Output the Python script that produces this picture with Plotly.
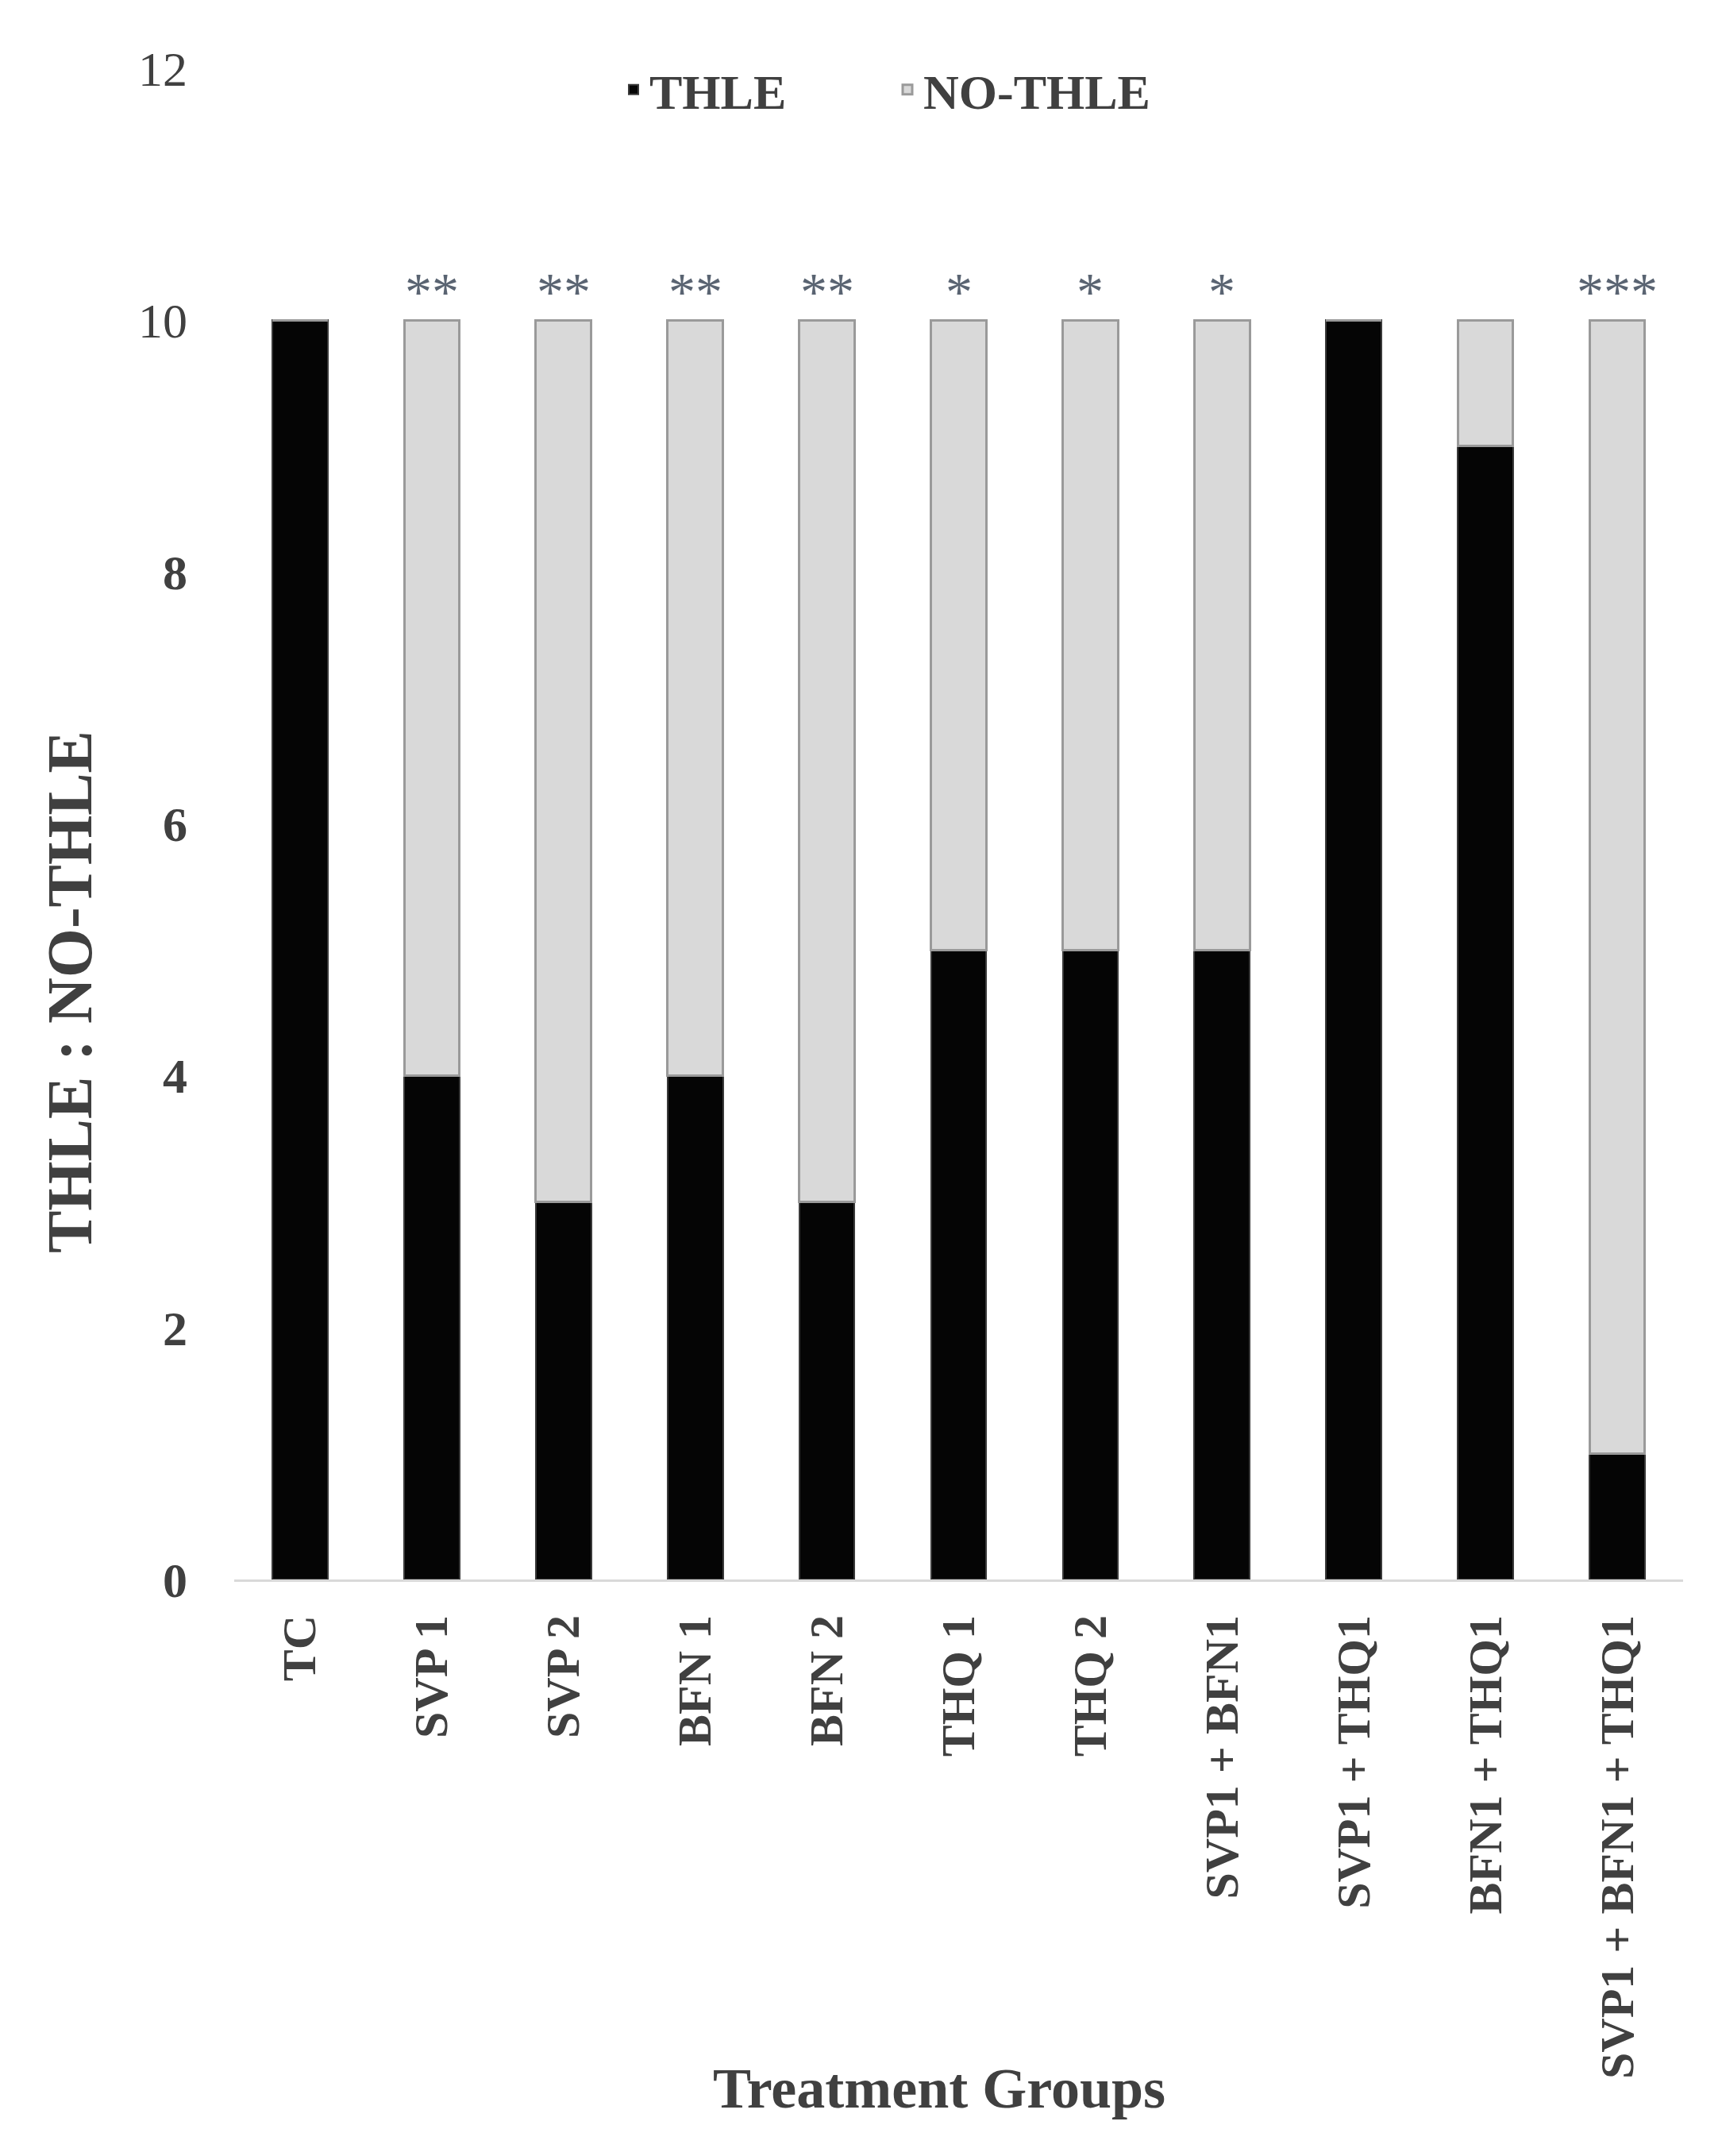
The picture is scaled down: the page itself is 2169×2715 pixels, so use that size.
import plotly.graph_objects as go

groups = ["TC", "SVP 1", "SVP 2", "BFN 1", "BFN 2", "THQ 1", "THQ 2",
          "SVP1 + BFN1", "SVP1 + THQ1", "BFN1 + THQ1", "SVP1 + BFN1 + THQ1"]
thle = [10, 4, 3, 4, 3, 5, 5, 5, 10, 9, 1]
no_thle = [0, 6, 7, 6, 7, 5, 5, 5, 0, 1, 9]
signif = ["", "**", "**", "**", "**", "*", "*", "*", "", "", "***"]
ytick_vals = [0, 2, 4, 6, 8, 10, 12]
ytick_text = ["<b>0</b>", "<b>2</b>", "<b>4</b>", "<b>6</b>", "<b>8</b>", "10", "12"]

FONT = "Liberation Serif"
TXT = "#404040"

L, R, T, B = 287, 57, 78, 734
W, H = 2169, 2715
PW, PH = W - L - R, H - T - B

def px(x):
    return (x - L) / PW

def py(y):
    return (H - B - y) / PH

fig = go.Figure()
fig.add_trace(go.Bar(x=groups, y=thle, name="THLE",
                     marker=dict(color="#050505", line=dict(color="#3a3a3a", width=2))))
fig.add_trace(go.Bar(x=groups, y=no_thle, name="NO-THLE",
                     marker=dict(color="#d9d9d9", line=dict(color="#9a9a9a", width=3))))

for g, s, a, b in zip(groups, signif, thle, no_thle):
    if s:
        fig.add_annotation(x=g, y=a + b, text=s, showarrow=False, yanchor="middle",
                           yshift=36, font=dict(family=FONT, size=68, color="#5a6472"))

fig.add_annotation(xref="paper", yref="paper", x=px(1175), y=py(2622),
                   text="<b>Treatment Groups</b>", showarrow=False,
                   xanchor="center", yanchor="middle",
                   font=dict(family=FONT, size=72, color=TXT))
fig.add_annotation(xref="paper", yref="paper", x=px(80), y=py(1241),
                   text="<b>THLE : NO-THLE</b>", showarrow=False, textangle=-90,
                   xanchor="center", yanchor="middle",
                   font=dict(family=FONT, size=80, color=TXT))

fig.update_layout(
    width=W, height=H,
    barmode="stack", bargap=0.58,
    plot_bgcolor="white", paper_bgcolor="white",
    margin=dict(l=L, r=R, t=T, b=B),
    font=dict(family=FONT, color=TXT),
    legend=dict(orientation="h", x=px(770), y=py(105),
                xanchor="left", yanchor="middle", bgcolor="rgba(0,0,0,0)",
                font=dict(family=FONT, size=62, color=TXT, weight="bold"),
                traceorder="normal", itemwidth=30,
                entrywidthmode="pixels", entrywidth=300),
    xaxis=dict(tickangle=-90, tickfont=dict(family=FONT, size=60, color=TXT, weight="bold"),
               showline=True, linecolor="#d9d9d9", linewidth=3, ticks="",
               showgrid=False, ticklabelstandoff=18),
    yaxis=dict(range=[0, 12], tickvals=ytick_vals, ticktext=ytick_text,
               tickfont=dict(family=FONT, size=62, color=TXT),
               showgrid=False, zeroline=False, showline=False, ticks="",
               ticklabelstandoff=58),
    showlegend=True,
)

fig.write_html("out.html")
